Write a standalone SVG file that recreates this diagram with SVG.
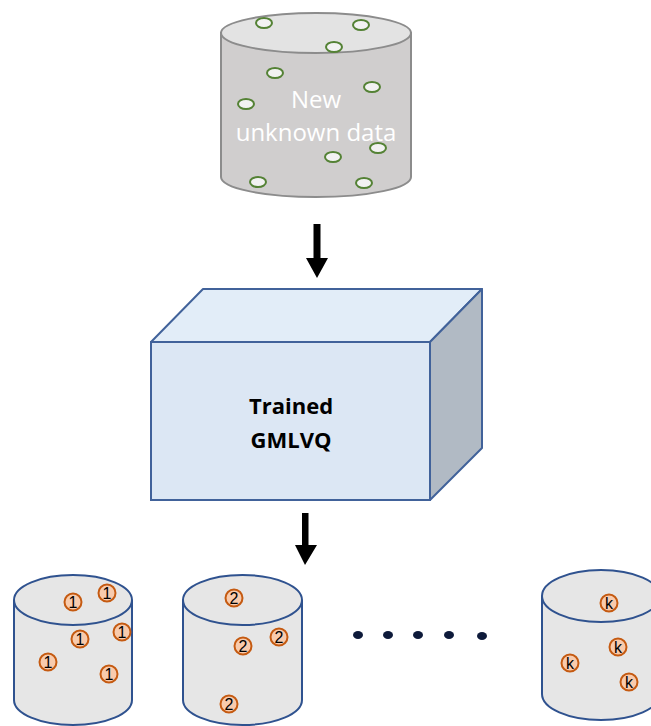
<svg xmlns="http://www.w3.org/2000/svg" width="651" height="726" viewBox="0 0 651 726">
<defs>
<style>
.gdot{fill:#f2f2f2;stroke:#548235;stroke-width:2}
.odot{fill:#f8cbad;stroke:#c55a11;stroke-width:2}
.onum{font-family:"Liberation Sans",Arial,sans-serif;font-size:16px;fill:#000;text-anchor:middle;dominant-baseline:central}
.cylB{fill:#e6e6e6;stroke:#2f528f;stroke-width:2}
.arrow{fill:#000}
.dot{fill:#0d1a3a}
</style>
</defs>
<rect width="651" height="726" fill="#fff"/>

<g id="new-data">
<path d="M221,33 L221,177 A95,20 0 0 0 411,177 L411,33 Z" fill="#d0cece" stroke="#8c8c8c" stroke-width="2"/>
<ellipse cx="316" cy="33" rx="95" ry="20" fill="#e3e3e3" stroke="#8c8c8c" stroke-width="2"/>
<ellipse class="gdot" cx="264" cy="23" rx="8" ry="5"/>
<ellipse class="gdot" cx="361" cy="25" rx="8" ry="5"/>
<ellipse class="gdot" cx="334" cy="47" rx="8" ry="5"/>
<ellipse class="gdot" cx="275" cy="73" rx="8" ry="5"/>
<ellipse class="gdot" cx="372" cy="87" rx="8" ry="5"/>
<ellipse class="gdot" cx="246" cy="104" rx="8" ry="5"/>
<ellipse class="gdot" cx="378" cy="148" rx="8" ry="5"/>
<ellipse class="gdot" cx="333" cy="157" rx="8" ry="5"/>
<ellipse class="gdot" cx="258" cy="182" rx="8" ry="5"/>
<ellipse class="gdot" cx="364" cy="183" rx="8" ry="5"/>
<text x="316" y="108" font-family="'Open Sans','Liberation Sans',sans-serif" font-size="24" fill="#fff" text-anchor="middle">New</text>
<text x="316" y="141" font-family="'Open Sans','Liberation Sans',sans-serif" font-size="24" fill="#fff" text-anchor="middle">unknown data</text>
</g>

<g id="gmlvq">
<polygon points="151,342 203,289 482,289 430,342" fill="#e2edf8" stroke="#41629a" stroke-width="2" stroke-linejoin="round"/>
<polygon points="430,342 482,289 482,448 430,500" fill="#b1bac4" stroke="#41629a" stroke-width="2" stroke-linejoin="round"/>
<rect x="151" y="342" width="279" height="158" fill="#dce7f4" stroke="#41629a" stroke-width="2"/>
<text x="291" y="414" font-family="'Open Sans','Liberation Sans',sans-serif" font-weight="bold" font-size="22" fill="#000" text-anchor="middle">Trained</text>
<text x="291" y="448" font-family="'Open Sans','Liberation Sans',sans-serif" font-weight="bold" font-size="22" fill="#000" text-anchor="middle">GMLVQ</text>
</g>

<g id="class-1">
<path class="cylB" d="M14,600 L14,700 A59,25 0 0 0 132,700 L132,600"/>
<ellipse class="cylB" cx="73" cy="600" rx="59" ry="25"/>
<circle class="odot" cx="73" cy="602" r="8.5"/><text class="onum" x="73" y="602">1</text>
<circle class="odot" cx="107" cy="593" r="8.5"/><text class="onum" x="107" y="593">1</text>
<circle class="odot" cx="80" cy="639" r="8.5"/><text class="onum" x="80" y="639">1</text>
<circle class="odot" cx="122" cy="632" r="8.5"/><text class="onum" x="122" y="632">1</text>
<circle class="odot" cx="48" cy="662" r="8.5"/><text class="onum" x="48" y="662">1</text>
<circle class="odot" cx="109" cy="674" r="8.5"/><text class="onum" x="109" y="674">1</text>
</g>

<g id="class-2">
<path class="cylB" d="M183,600 L183,700 A59.5,25 0 0 0 302,700 L302,600"/>
<ellipse class="cylB" cx="242.5" cy="600" rx="59.5" ry="25"/>
<circle class="odot" cx="234" cy="598" r="8.5"/><text class="onum" x="234" y="598">2</text>
<circle class="odot" cx="243" cy="646" r="8.5"/><text class="onum" x="243" y="646">2</text>
<circle class="odot" cx="279" cy="637" r="8.5"/><text class="onum" x="279" y="637">2</text>
<circle class="odot" cx="229" cy="704" r="8.5"/><text class="onum" x="229" y="704">2</text>
</g>

<g id="ellipsis">
<ellipse class="dot" cx="358" cy="635" rx="5" ry="4"/>
<ellipse class="dot" cx="388" cy="635" rx="5" ry="4"/>
<ellipse class="dot" cx="418" cy="635" rx="5" ry="4"/>
<ellipse class="dot" cx="449" cy="635" rx="5" ry="4"/>
<ellipse class="dot" cx="482" cy="636" rx="5" ry="4"/>
</g>

<g id="class-k">
<path class="cylB" d="M542,596 L542,694 A59,26 0 0 0 660,694 L660,596"/>
<ellipse class="cylB" cx="601" cy="596" rx="59" ry="26"/>
<circle class="odot" cx="609" cy="603" r="8.5"/><text class="onum" x="609" y="603">k</text>
<circle class="odot" cx="618" cy="647" r="8.5"/><text class="onum" x="618" y="647">k</text>
<circle class="odot" cx="570" cy="663" r="8.5"/><text class="onum" x="570" y="663">k</text>
<circle class="odot" cx="629" cy="682" r="8.5"/><text class="onum" x="629" y="682">k</text>
</g>

<g id="connectors">
<polygon class="arrow" points="313.5,224 320.5,224 320.5,258 328,258 317,278 306,258 313.5,258"/>
<polygon class="arrow" points="302,513 308.5,513 308.5,545 317,545 305,565 295,545 302,545"/>
</g>
</svg>
